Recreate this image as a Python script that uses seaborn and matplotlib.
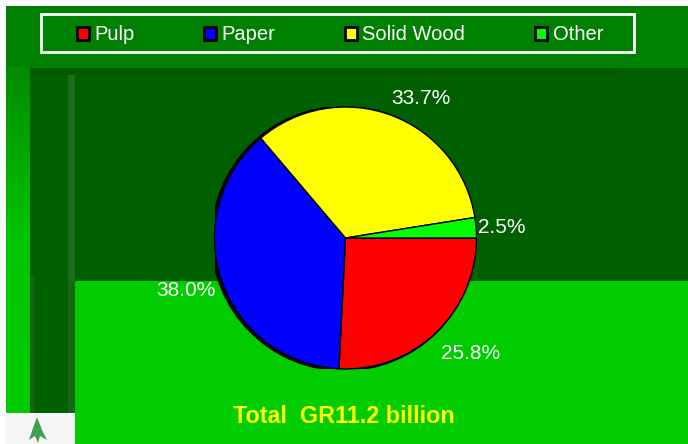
import matplotlib
matplotlib.use("Agg")
import matplotlib.pyplot as plt
import seaborn as sns
import numpy as np
from matplotlib.patches import Rectangle, Circle, Patch, Polygon
from matplotlib.colors import LinearSegmentedColormap

# ---- data ----
categories = ["Pulp", "Paper", "Solid Wood", "Other"]
shares = [25.8, 38.0, 33.7, 2.5]
colors_hex = ["#ff0000", "#0000ff", "#ffff00", "#00ff00"]
title_text = "Total  GR11.2 billion"

sns.set_theme(style="white")
plt.rcParams["font.family"] = ["Liberation Sans", "DejaVu Sans"]
palette = sns.color_palette(colors_hex)

W, H = 688, 444
fig = plt.figure(figsize=(W / 100, H / 100), dpi=100)
fig.patch.set_facecolor("white")

# ---- background (pixel coordinates, origin top-left) ----
bg = fig.add_axes([0, 0, 1, 1], zorder=0)
bg.set_xlim(0, W)
bg.set_ylim(H, 0)
bg.axis("off")

def rect(x0, y0, x1, y1, color, z=2, ec="none", lw=0):
    bg.add_patch(Rectangle((x0, y0), x1 - x0, y1 - y0, facecolor=color,
                           edgecolor=ec, linewidth=lw, zorder=z))

rect(6, 6, W, H, "#008000", z=1)
# left gradient strip
grad = np.linspace(0, 1, 200)[:, None]
cmap = LinearSegmentedColormap.from_list("g", ["#008c00", "#00c400", "#00cc00"])
bg.imshow(grad, extent=(6, 30, 413, 68), cmap=cmap, aspect="auto", zorder=1.5)
rect(6, 413, 30, H, "#00cc00")
# dark region
rect(30, 68, W, 281, "#006000")
rect(30, 68, 620, 75, "#005a00")
rect(30, 281, 75, 413, "#006000")
rect(68, 75, 75, 281, "#1c6e1c")
rect(68, 281, 75, 413, "#166616")
rect(30, 276, 35, 413, "#146214")
# bright bottom region
rect(75, 281, W, H, "#00cc00")
# logo box
rect(6, 413, 75, H, "#f5f5f5")
bg.add_patch(Polygon([(37, 417), (33, 428), (29, 440), (35, 436), (38, 443),
                      (40, 436), (47, 440), (42, 430)],
                     closed=True, facecolor="#3f9f4f", edgecolor="none", zorder=3))
# legend frame
rect(41, 14, 634, 52, "#008000", z=3, ec="white", lw=2)

# ---- pie ----
cx, cy, r = 345.5, 238, 131
ax = fig.add_axes([(cx - r) / W, (H - cy - r) / H, 2 * r / W, 2 * r / H], zorder=2)
ax.add_patch(Circle((-0.014, -0.004), 1.014, facecolor="black", edgecolor="none", zorder=0.5))
wedges, texts, autotexts = ax.pie(
    shares, colors=palette, startangle=0, counterclock=False,
    autopct="%.1f%%", pctdistance=1.24,
    wedgeprops=dict(edgecolor="black", linewidth=1.0),
    textprops=dict(color="white", fontsize=15),
)
# small label nudges (style) to mimic the original label placement
nudges = [(0.10, 0.015), (-0.045, 0.0), (0.145, -0.10), (-0.04, -0.015)]
for t, (dx, dy) in zip(autotexts, nudges):
    x, y = t.get_position()
    t.set_position((x + dx, y + dy))
ax.set_xlim(-1, 1)
ax.set_ylim(-1, 1)
ax.set_aspect("equal")
ax.axis("off")

# ---- legend ----
handles = [Patch(facecolor=c, edgecolor="black", linewidth=2) for c in palette]
leg = fig.legend(handles, categories, loc="center", ncol=4, mode="expand",
                 bbox_to_anchor=(77 / W, 1 - 50 / H, 526 / W, 30 / H),
                 bbox_transform=fig.transFigure,
                 fontsize=14.5, frameon=False,
                 handlelength=0.6, handleheight=0.6, handletextpad=0.25,
                 borderpad=0, borderaxespad=0)
for t in leg.get_texts():
    t.set_color("white")

fig.text(344 / W, 1 - 416 / H, title_text, ha="center", va="center",
         color="#ffff00", fontsize=16.8, fontweight="bold")

fig.savefig("out.png", dpi=100)
